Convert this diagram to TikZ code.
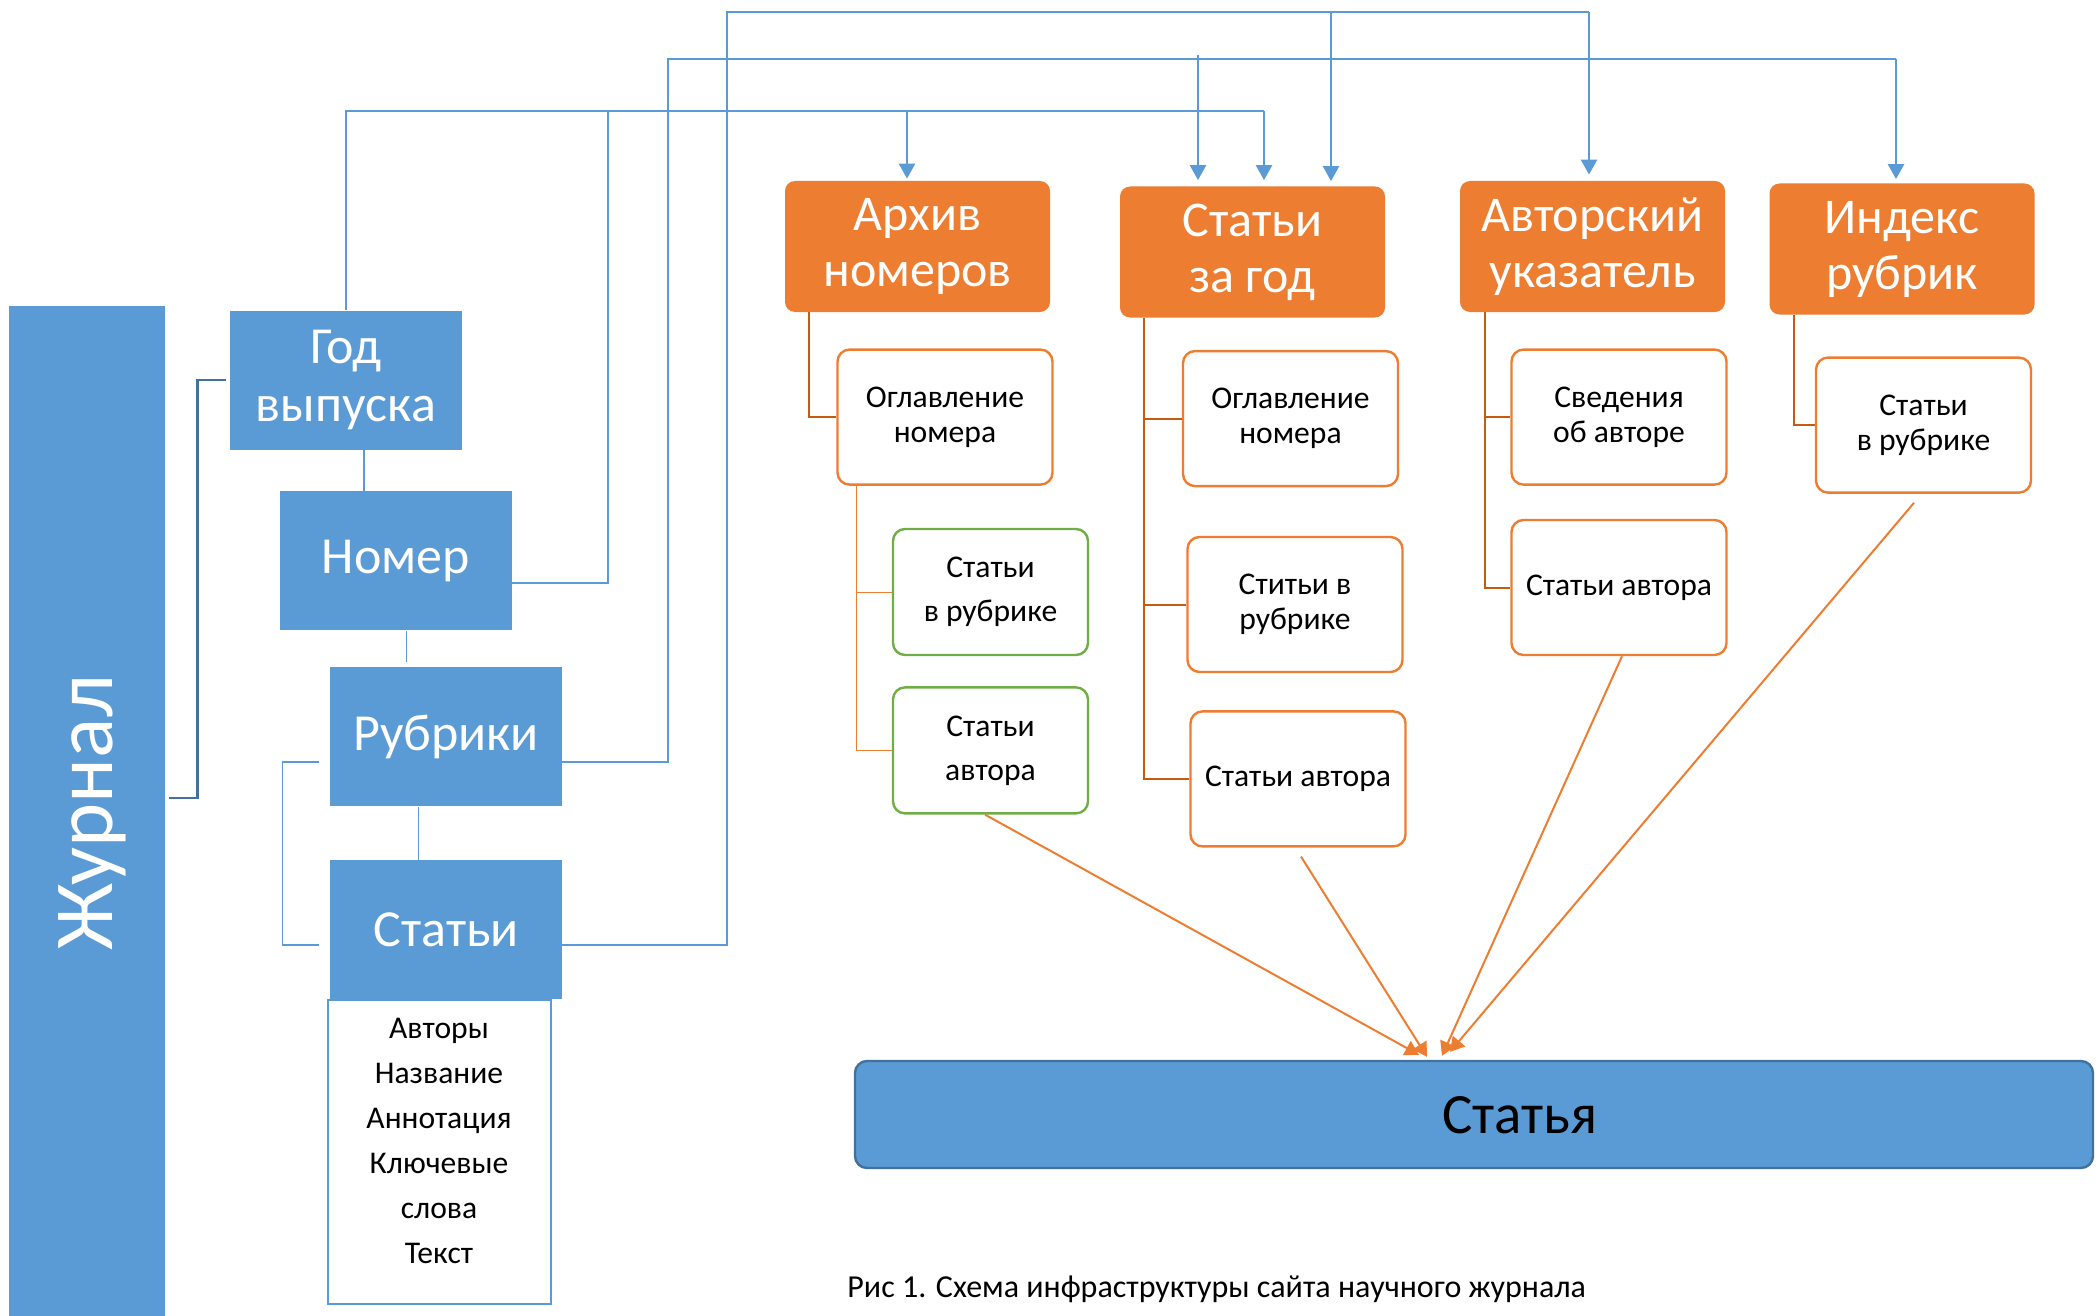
\documentclass[tikz,border=0pt]{standalone}
\usepackage{fontspec}
\setmainfont{Carlito}
\usetikzlibrary{positioning,arrows.meta}
\definecolor{zblue}{HTML}{5B9BD5}
\definecolor{zdkblue}{HTML}{41719C}
\definecolor{zorange}{HTML}{ED7D31}
\definecolor{zdkorange}{HTML}{C55A11}
\definecolor{zgreen}{HTML}{70AD47}
\tikzset{
  bluebox/.style={rectangle, fill=zblue, text=white, minimum width=116pt, minimum height=69.5pt, inner sep=0pt, align=center, font=\fontsize{26}{29}\selectfont},
  headbox/.style={rectangle, rounded corners=5pt, fill=zorange, text=white, minimum width=132.5pt, minimum height=65.5pt, inner sep=0pt, align=center, font=\fontsize{25}{28}\selectfont},
  subbox/.style={rectangle, rounded corners=6pt, draw=zorange, line width=1.2pt, fill=white, minimum width=107.5pt, minimum height=67.5pt, inner sep=0pt, align=center, font=\fontsize{15.8}{17.5}\selectfont},
  greenbox/.style={subbox, draw=zgreen, minimum width=97.5pt, minimum height=63pt, font=\fontsize{15.8}{22}\selectfont},
  bline/.style={draw=zblue, line width=0.8pt},
  barrow/.style={draw=zblue, line width=1.3pt, -{Triangle[width=8pt,length=7.5pt]}},
  oline/.style={draw=zdkorange, line width=1pt},
  othin/.style={draw=zorange, line width=0.5pt},
  oarrow/.style={draw=zorange, line width=1pt, -{Triangle[width=8pt,length=7pt]}}
}
\begin{document}
\begin{tikzpicture}[x=0.5pt, y=-0.5pt]
  \useasboundingbox (0,0) rectangle (2098,1316);
  % Journal column
  \node[rectangle, fill=zblue, minimum width=78pt, minimum height=505pt, inner sep=0pt] (zhurnal) at (87,811) {};
  \node[rotate=90, text=white, inner sep=0pt, font=\fontsize{42}{48}\selectfont] (zhurnaltext) at (92,813) {Журнал};
  \node[bluebox] (god) at (346,380) {Год\\выпуска};
  \node[bluebox, below=20.5pt of god, xshift=25pt] (nomer) {Номер};
  \node[bluebox, below=18pt of nomer, xshift=25pt] (rubriki) {Рубрики};
  \node[bluebox, below=26.5pt of rubriki] (stati) {Статьи};
  \node[draw=zblue, line width=1pt, minimum width=111.5pt, minimum height=152pt, inner sep=0pt, anchor=north] (spisok) at ([xshift=-3.5pt]stati.south) {};
  \node[align=center, font=\fontsize{15.8}{22.5}\selectfont] (spisoktext) at ([yshift=5.5pt]spisok.center) {Авторы\\Название\\Аннотация\\Ключевые\\слова\\Текст};

  % Site sections
  \node[headbox] (arhiv) at (917.5,246.5) {Архив\\номеров};
  \node[headbox] (stzagod) at (1252.5,252) {Статьи\\за год};
  \node[headbox] (avtor) at (1592.5,246.5) {Авторский\\указатель};
  \node[headbox] (index) at (1902,249) {Индекс\\рубрик};

  \node[subbox, below=18pt of arhiv, xshift=13.75pt] (ogl1) {Оглавление\\номера};
  \node[greenbox, below=21pt of ogl1, xshift=22.75pt] (sr1) {Статьи\\в рубрике};
  \node[greenbox, below=15pt of sr1] (sa1) {Статьи\\автора};

  \node[subbox, below=16pt of stzagod, xshift=19pt] (ogl2) {Оглавление\\номера};
  \node[subbox, below=24.25pt of ogl2, xshift=2.25pt] (sr2) {Ститьи в\\рубрике};
  \node[subbox, below=18.5pt of sr2, xshift=1.5pt] (sa2) {Статьи автора};

  \node[subbox, below=18pt of avtor, xshift=13.25pt] (sved) {Сведения\\об авторе};
  \node[subbox, below=16.5pt of sved] (sa3) {Статьи автора};

  \node[subbox, below=20.75pt of index, xshift=10.75pt] (sr4) {Статьи\\в рубрике};

  \node[rectangle, rounded corners=6pt, fill=zblue, draw=zdkblue, line width=1.2pt, minimum width=619pt, minimum height=53.5pt] (statya) at (1474,1114.5) {};
  \node[font=\fontsize{28.5}{32}\selectfont] (statyatext) at (1520,1115) {Статья};

  \node[anchor=west, inner sep=0pt, font=\fontsize{16}{18}\selectfont] (caption) at (847,1289) {Рис 1. Схема инфраструктуры сайта научного журнала};

  % Journal links
  \draw[zdkblue, line width=1.2pt] ([xshift=2pt,yshift=6.5pt]zhurnal.east) -| ([xshift=-16pt]god.west) -- ([xshift=-2pt]god.west);
  \draw[bline] ([xshift=9pt]god.south) -- ([xshift=9pt]god.south |- nomer.north);
  \draw[bline] ([xshift=5.25pt]nomer.south) -- ([xshift=5.25pt,yshift=2.5pt]nomer.south |- rubriki.north);
  \draw[bline] ([xshift=-13.75pt]rubriki.south) -- ([xshift=-13.75pt]rubriki.south |- stati.north);
  \draw[bline] ([xshift=-5.5pt,yshift=-12.75pt]rubriki.west) -| ([xshift=-23.5pt,yshift=-7.75pt]stati.west) -- ([xshift=-5.5pt,yshift=-7.75pt]stati.west);

  % Buses to the sections
  \draw[bline] (god.north) |- (1264,111) coordinate (bus1);
  \draw[bline] ([yshift=-11pt]nomer.east) -| (608,111);
  \draw[barrow] (bus1) -- ([xshift=5.75pt,yshift=3pt]stzagod.north);
  \draw[barrow] ([xshift=-5.25pt]arhiv.north |- bus1) -- ([xshift=-5.25pt,yshift=1pt]arhiv.north);

  \draw[bline] ([yshift=-12.75pt]rubriki.east) -| (668,59) -- (1896,59) coordinate (bus2);
  \draw[barrow] (bus2) -- ([xshift=-3pt,yshift=2pt]index.north);
  \draw[barrow] ([xshift=-27.25pt,yshift=2pt]stzagod.north |- bus2) -- ([xshift=-27.25pt,yshift=3pt]stzagod.north);

  \draw[bline] ([yshift=-7.75pt]stati.east) -| (727,12) -- (1589,12) coordinate (bus3);
  \draw[barrow] (bus3) -- ([xshift=-1.75pt,yshift=3pt]avtor.north);
  \draw[barrow] ([xshift=39.25pt]stzagod.north |- bus3) -- ([xshift=39.25pt,yshift=2.5pt]stzagod.north);

  % Section trees
  \draw[oline] ([xshift=12pt]arhiv.south west) |- (ogl1.west);
  \foreach \c in {sr1,sa1}
    \draw[othin] ([xshift=10pt]ogl1.south west) |- (\c.west);
  \foreach \c in {ogl2,sr2,sa2}
    \draw[oline] ([xshift=12pt]stzagod.south west) |- (\c.west);
  \foreach \c in {sved,sa3}
    \draw[oline] ([xshift=12.5pt]avtor.south west) |- (\c.west);
  \draw[oline] ([xshift=12.5pt]index.south west) |- (sr4.west);

  % Links to the article
  \draw[oarrow] ([xshift=-2.75pt]sa1.south) -- ([xshift=-27.5pt,yshift=2.5pt]statya.north);
  \draw[oarrow] ([xshift=1.5pt,yshift=-4.5pt]sa2.south) -- ([xshift=-23.5pt,yshift=1.5pt]statya.north);
  \draw[oarrow] ([xshift=1.5pt]sa3.south) -- ([xshift=-16pt,yshift=2pt]statya.north);
  \draw[oarrow] ([xshift=-4.75pt,yshift=-4.5pt]sr4.south) -- ([xshift=-12pt,yshift=4pt]statya.north);
\end{tikzpicture}
\end{document}
